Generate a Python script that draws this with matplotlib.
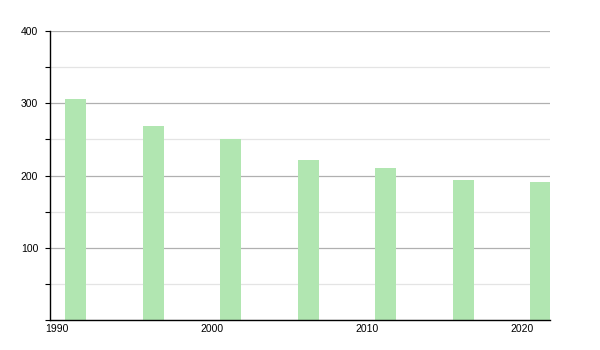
import matplotlib
matplotlib.use("Agg")
import matplotlib.pyplot as plt
from matplotlib.ticker import MultipleLocator

# census years and population
years = [1991, 1996, 2001, 2006, 2011, 2016, 2021]
population = [306, 268, 250, 221, 210, 194, 191]
x_ticks = [1990, 2000, 2010, 2020]
y_ticks = [100, 200, 300, 400]

plt.rcParams['font.family'] = ['Liberation Sans', 'DejaVu Sans']

fig = plt.figure(figsize=(6, 3.5), dpi=100)
ax = fig.add_axes([50 / 600, 1 - 320 / 350, 500 / 600, 289 / 350])

bar_offset = 0.2
ax.bar([y + bar_offset for y in years], population, width=1.35,
       color='#b1e6b1', zorder=2)

ax.set_xlim(1989.55, 2021.8)
ax.set_ylim(0, 400)

ax.set_xticks(x_ticks)
ax.set_yticks(y_ticks)
ax.yaxis.set_minor_locator(MultipleLocator(50))

ax.grid(axis='y', which='major', color='#b0b0b0', linewidth=0.9, zorder=0)
ax.grid(axis='y', which='minor', color='#e4e4e4', linewidth=0.9, zorder=0)
ax.set_axisbelow(True)

for side in ['top', 'right']:
    ax.spines[side].set_visible(False)
for side in ['left', 'bottom']:
    ax.spines[side].set_color('black')
    ax.spines[side].set_linewidth(1.0)

ax.tick_params(axis='y', which='both', length=3.5, width=0.8, pad=5,
               labelsize=7.5, direction='out')
ax.tick_params(axis='x', length=0, pad=3, labelsize=7.5)

fig.savefig('out.png', dpi=100)
